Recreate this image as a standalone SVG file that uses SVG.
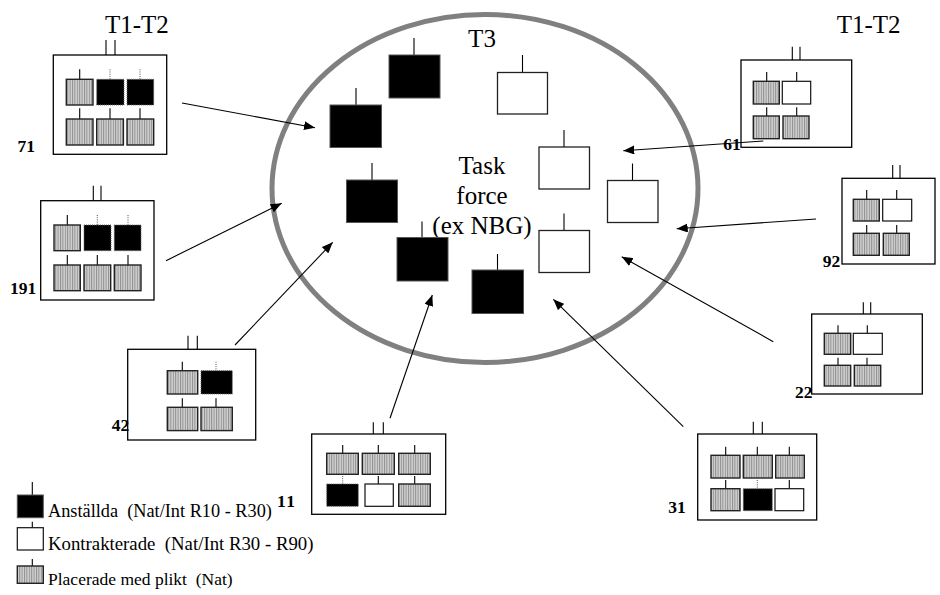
<svg xmlns="http://www.w3.org/2000/svg" width="940" height="595" viewBox="0 0 940 595">
  <defs>
    <!-- vertical hatch used for the "Placerade med plikt" boxes -->
    <pattern id="hatch" width="2.4" height="4" patternUnits="userSpaceOnUse">
      <rect width="2.4" height="4" fill="#d2d2d2"/>
      <rect width="1" height="4" fill="#8e8e8e"/>
    </pattern>
    <marker id="arrow" markerWidth="11" markerHeight="9" refX="11" refY="4.5" orient="auto" markerUnits="userSpaceOnUse">
      <path d="M0,0 L11,4.5 L0,9 z" fill="#000"/>
    </marker>
  </defs>
  <style>
    .frame { fill: #fff; stroke: #000; stroke-width: 1.3; }
    .stub { stroke: #000; stroke-width: 1.1; fill: none; }
    .dot { stroke: #555; stroke-width: 1; stroke-dasharray: 1 1.2; fill: none; }
    .g { fill: url(#hatch); stroke: #222; stroke-width: 1.4; }
    .b { fill: #000; stroke: #666; stroke-width: 1; stroke-dasharray: 1 1; }
    .w { fill: #fff; stroke: #111; stroke-width: 1.2; }
    .bb { fill: #000; stroke: #555; stroke-width: 1; }
    .bw { fill: #fff; stroke: #222; stroke-width: 1.3; }
    .num { font-family: "Liberation Serif", "Times New Roman", serif; font-weight: bold; font-size: 17.5px; fill: #000; }
    .big { font-family: "Liberation Serif", "Times New Roman", serif; font-size: 25px; fill: #000; }
    .leg { font-family: "Liberation Serif", "Times New Roman", serif; font-size: 17.5px; fill: #000; }
    .leg1 { font-size: 18.3px; }
    .leg2 { font-size: 18.8px; }
    .conn { stroke: #000; stroke-width: 1.1; fill: none; marker-end: url(#arrow); }
  </style>

  <rect width="940" height="595" fill="#fff"/>

  <!-- task force ellipse with its units -->
  <g id="taskforce">
    <ellipse cx="485" cy="188.5" rx="213" ry="174" fill="none" stroke="#808080" stroke-width="5"/>
    <text class="big" x="482" y="46.5" text-anchor="middle">T3</text>
    <text class="big" x="482" y="173.5" text-anchor="middle">Task</text>
    <text class="big" x="482" y="203.5" text-anchor="middle">force</text>
    <text class="big" x="482" y="233.5" text-anchor="middle">(ex NBG)</text>
    <!-- employed units -->
    <line class="stub" x1="414" y1="38" x2="414" y2="55"/><rect class="bb" x="389" y="55" width="51" height="43"/>
    <line class="stub" x1="356" y1="88" x2="356" y2="105"/><rect class="bb" x="330" y="105" width="51.5" height="42.5"/>
    <line class="stub" x1="372" y1="163" x2="372" y2="180"/><rect class="bb" x="346.5" y="180" width="51" height="42.5"/>
    <line class="stub" x1="422" y1="221.5" x2="422" y2="237.5"/><rect class="bb" x="397" y="237.5" width="51" height="43.5"/>
    <line class="stub" x1="497.5" y1="254" x2="497.5" y2="270"/><rect class="bb" x="472" y="270" width="51.5" height="43.5"/>
    <!-- contracted units -->
    <line class="stub" x1="522.5" y1="55" x2="522.5" y2="72.5"/><rect class="bw" x="497.5" y="72.5" width="50" height="41.5"/>
    <line class="stub" x1="564" y1="130" x2="564" y2="147"/><rect class="bw" x="539" y="147" width="50.5" height="42"/>
    <line class="stub" x1="564" y1="213.5" x2="564" y2="230.5"/><rect class="bw" x="539" y="230.5" width="50.5" height="42"/>
    <line class="stub" x1="632.5" y1="163.5" x2="632.5" y2="180.5"/><rect class="bw" x="607.5" y="180.5" width="50.5" height="42"/>
  </g>

  <text class="big" x="105" y="33.3">T1-T2</text>
  <text class="big" x="836.7" y="33.3">T1-T2</text>

  <!-- unit 71 -->
  <g id="unit71">
    <rect class="frame" x="53.3" y="55" width="113.4" height="99.3"/>
    <line class="stub" x1="106" y1="40" x2="106" y2="55"/><line class="stub" x1="115" y1="40" x2="115" y2="55"/>
    <line class="stub" x1="79.7" y1="69.3" x2="79.7" y2="79.3"/>
    <line class="dot" x1="110" y1="69.3" x2="110" y2="79.3"/>
    <line class="dot" x1="140" y1="69.3" x2="140" y2="79.3"/>
    <rect class="g" x="66.3" y="79.3" width="26.7" height="25.7"/>
    <rect class="b" x="96.7" y="79.3" width="27.3" height="25.7"/>
    <rect class="b" x="127" y="79.3" width="26.7" height="25.7"/>
    <line class="stub" x1="79.7" y1="108.3" x2="79.7" y2="119"/>
    <line class="stub" x1="110" y1="108.3" x2="110" y2="119"/>
    <line class="stub" x1="140" y1="108.3" x2="140" y2="119"/>
    <rect class="g" x="66.3" y="119" width="26.7" height="26"/>
    <rect class="g" x="96.7" y="119" width="26.7" height="26"/>
    <rect class="g" x="127" y="119" width="26.7" height="26"/>
    <text class="num" x="17.5" y="151.5">71</text>
  </g>

  <!-- unit 191 -->
  <g id="unit191">
    <rect class="frame" x="40.7" y="200.7" width="113.3" height="99.3"/>
    <line class="stub" x1="93.3" y1="185.7" x2="93.3" y2="200.7"/><line class="stub" x1="101" y1="185.7" x2="101" y2="200.7"/>
    <line class="stub" x1="67.3" y1="215" x2="67.3" y2="225"/>
    <line class="dot" x1="97.3" y1="215" x2="97.3" y2="225"/>
    <line class="dot" x1="128" y1="215" x2="128" y2="225"/>
    <rect class="g" x="54" y="225" width="26.3" height="25.7"/>
    <rect class="b" x="84" y="225" width="27" height="25.7"/>
    <rect class="b" x="114.3" y="225" width="26.7" height="25.7"/>
    <line class="stub" x1="67.3" y1="255" x2="67.3" y2="265"/>
    <line class="stub" x1="97.3" y1="255" x2="97.3" y2="265"/>
    <line class="stub" x1="128" y1="255" x2="128" y2="265"/>
    <rect class="g" x="54" y="265" width="26.3" height="25.7"/>
    <rect class="g" x="84" y="265" width="26.7" height="25.7"/>
    <rect class="g" x="114.3" y="265" width="26.7" height="25.7"/>
    <text class="num" x="10" y="293.5">191</text>
  </g>

  <!-- unit 42 -->
  <g id="unit42">
    <rect class="frame" x="127.7" y="349.3" width="128" height="90.7"/>
    <line class="stub" x1="188" y1="335.7" x2="188" y2="349.3"/><line class="stub" x1="197.3" y1="335.7" x2="197.3" y2="349.3"/>
    <line class="stub" x1="182.3" y1="361.7" x2="182.3" y2="370.7"/>
    <line class="dot" x1="216" y1="361.7" x2="216" y2="370.7"/>
    <rect class="g" x="167.3" y="370.7" width="30.4" height="23.3"/>
    <rect class="b" x="201" y="370.7" width="31.3" height="23.3"/>
    <line class="stub" x1="182.3" y1="398.3" x2="182.3" y2="407.3"/>
    <line class="stub" x1="216" y1="398.3" x2="216" y2="407.3"/>
    <rect class="g" x="167.3" y="407.3" width="30.4" height="23.3"/>
    <rect class="g" x="201" y="407.3" width="31.3" height="23.3"/>
    <text class="num" x="111.7" y="431">42</text>
  </g>

  <!-- unit 11 -->
  <g id="unit11">
    <rect class="frame" x="311.7" y="434" width="134" height="80.3"/>
    <line class="stub" x1="373.3" y1="422.3" x2="373.3" y2="434"/><line class="stub" x1="383.3" y1="422.3" x2="383.3" y2="434"/>
    <line class="stub" x1="342.7" y1="445" x2="342.7" y2="453.3"/>
    <line class="stub" x1="378.3" y1="445" x2="378.3" y2="453.3"/>
    <line class="stub" x1="414.7" y1="445" x2="414.7" y2="453.3"/>
    <rect class="g" x="326.7" y="453.3" width="31.6" height="21"/>
    <rect class="g" x="362.3" y="453.3" width="32" height="21"/>
    <rect class="g" x="398.7" y="453.3" width="31.6" height="21"/>
    <line class="dot" x1="342.7" y1="476" x2="342.7" y2="484"/>
    <line class="stub" x1="378.3" y1="476" x2="378.3" y2="484"/>
    <line class="stub" x1="414.7" y1="476" x2="414.7" y2="484"/>
    <rect class="b" x="326.7" y="484" width="31.6" height="22.3"/>
    <rect class="w" x="365" y="484" width="28.3" height="22.3"/>
    <rect class="g" x="398.7" y="484" width="31.6" height="22.3"/>
    <text class="num" x="277" y="507" letter-spacing="1.5">11</text>
  </g>

  <!-- unit 31 -->
  <g id="unit31">
    <rect class="frame" x="697.7" y="434" width="119" height="86"/>
    <line class="stub" x1="753.3" y1="421.7" x2="753.3" y2="434"/><line class="stub" x1="762.3" y1="421.7" x2="762.3" y2="434"/>
    <line class="stub" x1="725.7" y1="446.7" x2="725.7" y2="455.3"/>
    <line class="stub" x1="757.3" y1="446.7" x2="757.3" y2="455.3"/>
    <line class="stub" x1="789.3" y1="446.7" x2="789.3" y2="455.3"/>
    <rect class="g" x="711" y="455.3" width="29" height="22.7"/>
    <rect class="g" x="743.3" y="455.3" width="29" height="22.7"/>
    <rect class="g" x="775.7" y="455.3" width="28.6" height="22.7"/>
    <line class="stub" x1="725.7" y1="480" x2="725.7" y2="488.7"/>
    <line class="dot" x1="757.3" y1="480" x2="757.3" y2="488.7"/>
    <line class="stub" x1="789.3" y1="480" x2="789.3" y2="488.7"/>
    <rect class="g" x="711" y="488.7" width="29" height="22"/>
    <rect class="b" x="743.3" y="488.7" width="29" height="22"/>
    <rect class="w" x="775" y="488.7" width="28.7" height="22"/>
    <text class="num" x="668.3" y="513.3">31</text>
  </g>

  <!-- unit 22 -->
  <g id="unit22">
    <rect class="frame" x="811.7" y="314" width="110.6" height="80"/>
    <line class="stub" x1="863.3" y1="302.3" x2="863.3" y2="314"/><line class="stub" x1="870.7" y1="302.3" x2="870.7" y2="314"/>
    <line class="stub" x1="838" y1="325.3" x2="838" y2="333.3"/>
    <line class="stub" x1="867.3" y1="325.3" x2="867.3" y2="333.3"/>
    <rect class="g" x="824.3" y="333.3" width="26.4" height="21"/>
    <rect class="w" x="853.3" y="333.3" width="29" height="21"/>
    <line class="stub" x1="838" y1="357.7" x2="838" y2="365.3"/>
    <line class="stub" x1="867" y1="357.7" x2="867" y2="365.3"/>
    <rect class="g" x="824.3" y="365.3" width="26.4" height="20.7"/>
    <rect class="g" x="854.3" y="365.3" width="26.4" height="20.7"/>
    <text class="num" x="795" y="397.7">22</text>
  </g>

  <!-- unit 92 -->
  <g id="unit92">
    <rect class="frame" x="842" y="178.3" width="93" height="85.7"/>
    <line class="stub" x1="892.7" y1="165" x2="892.7" y2="178.3"/><line class="stub" x1="900" y1="165" x2="900" y2="178.3"/>
    <line class="stub" x1="866.7" y1="190" x2="866.7" y2="199.3"/>
    <line class="stub" x1="896.7" y1="190" x2="896.7" y2="199.3"/>
    <rect class="g" x="853.3" y="199.3" width="26" height="21.7"/>
    <rect class="w" x="882.7" y="199.3" width="29" height="21.7"/>
    <line class="stub" x1="866.7" y1="225" x2="866.7" y2="233.3"/>
    <line class="stub" x1="896.7" y1="225" x2="896.7" y2="233.3"/>
    <rect class="g" x="853.3" y="233.3" width="26" height="22"/>
    <rect class="g" x="883.3" y="233.3" width="26" height="22"/>
    <text class="num" x="822.7" y="266.7">92</text>
  </g>

  <!-- unit 61 -->
  <g id="unit61">
    <rect class="frame" x="741" y="60" width="110.7" height="87.3"/>
    <line class="stub" x1="792.3" y1="46.7" x2="792.3" y2="60"/><line class="stub" x1="800" y1="46.7" x2="800" y2="60"/>
    <line class="stub" x1="766.7" y1="72" x2="766.7" y2="81.3"/>
    <line class="stub" x1="796.7" y1="72" x2="796.7" y2="81.3"/>
    <rect class="g" x="753.3" y="81.3" width="26" height="22.7"/>
    <rect class="w" x="782.3" y="81.3" width="28.4" height="22.7"/>
    <line class="stub" x1="766.7" y1="107.3" x2="766.7" y2="116"/>
    <line class="stub" x1="796.7" y1="107.3" x2="796.7" y2="116"/>
    <rect class="g" x="753.3" y="116" width="26" height="22.7"/>
    <rect class="g" x="783" y="116" width="26" height="22.7"/>
    <text class="num" x="723.3" y="150">61</text>
  </g>

  <!-- transfers into the task force -->
  <g id="connectors">
    <line class="conn" x1="182" y1="103" x2="315" y2="127.7"/>
    <line class="conn" x1="166" y1="260.7" x2="281.7" y2="203.3"/>
    <line class="conn" x1="235" y1="345" x2="332.7" y2="242.3"/>
    <line class="conn" x1="390" y1="418.3" x2="432.3" y2="295"/>
    <line class="conn" x1="683.3" y1="426.7" x2="553.3" y2="299.3"/>
    <line class="conn" x1="773.3" y1="341.7" x2="621.7" y2="256.7"/>
    <line class="conn" x1="816" y1="219" x2="676.7" y2="228.7"/>
    <line class="conn" x1="763.3" y1="141" x2="623.3" y2="150.7"/>
  </g>

  <!-- legend -->
  <g id="legend">
    <line class="stub" x1="32.3" y1="482" x2="32.3" y2="495"/>
    <rect class="bb" x="17.3" y="495" width="26" height="22.7"/>
    <text class="leg leg1" x="48" y="516.7" xml:space="preserve">Anställda  (Nat/Int R10 - R30)</text>
    <line class="stub" x1="32.3" y1="521.7" x2="32.3" y2="527.7"/>
    <rect class="w" x="17.3" y="527.7" width="26" height="22.3"/>
    <text class="leg leg2" x="48" y="550" xml:space="preserve">Kontrakterade  (Nat/Int R30 - R90)</text>
    <line class="stub" x1="32.3" y1="559" x2="32.3" y2="566"/>
    <rect class="g" x="17.3" y="566" width="26" height="17.3"/>
    <text class="leg" x="48" y="585" xml:space="preserve">Placerade med plikt  (Nat)</text>
  </g>
</svg>
